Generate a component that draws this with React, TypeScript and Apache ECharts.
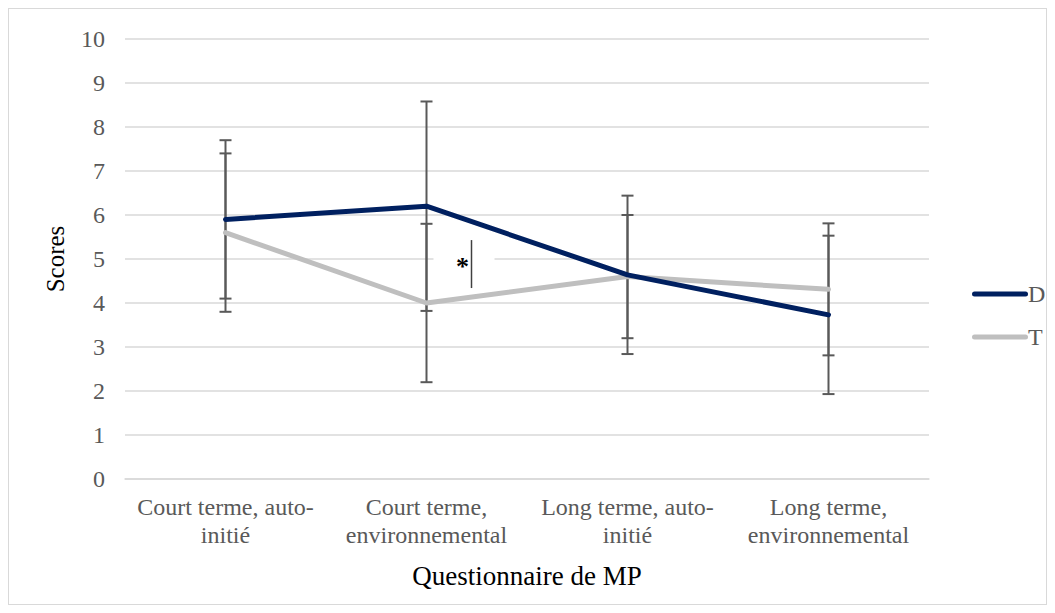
import React, { useEffect, useRef } from "react";
import * as echarts from "echarts";

const categories = [
  "Court terme, auto-\ninitié",
  "Court terme,\nenvironnemental",
  "Long terme, auto-\ninitié",
  "Long terme,\nenvironnemental",
];
const yTicks = [0, 1, 2, 3, 4, 5, 6, 7, 8, 9, 10];
const dMeans = [5.9, 6.2, 4.64, 3.73];
const dErr = [1.8, 2.38, 1.8, 1.8];
const tMeans = [5.6, 4.0, 4.6, 4.31];
const tErr = [1.8, 1.8, 1.4, 1.5];

const FONT = "'Liberation Serif', 'Times New Roman', serif";
const LEGEND_ICON = "path://M2.5,0 L53.5,0 A2.5,2.5 0 0 1 53.5,5 L2.5,5 A2.5,2.5 0 0 1 2.5,0 Z";

function errData(means: number[], errs: number[]) {
  return means.map((m, i) => [i, m - errs[i], m + errs[i]]);
}

function errorRender(params: any, api: any) {
  const x = api.value(0);
  const lo = api.coord([x, api.value(1)]);
  const hi = api.coord([x, api.value(2)]);
  const hw = 6;
  const style = { stroke: "#595959", lineWidth: 2, fill: "none" };
  return {
    type: "group",
    children: [
      { type: "line", shape: { x1: lo[0], y1: lo[1], x2: hi[0], y2: hi[1] }, style },
      { type: "line", shape: { x1: lo[0] - hw, y1: lo[1], x2: lo[0] + hw, y2: lo[1] }, style },
      { type: "line", shape: { x1: hi[0] - hw, y1: hi[1], x2: hi[0] + hw, y2: hi[1] }, style },
    ],
  };
}

export default function App() {
  const ref = useRef<HTMLDivElement>(null);
  useEffect(() => {
    if (!ref.current) return;
    const chart = echarts.init(ref.current, undefined, { renderer: "svg" });
    chart.setOption({
      animation: false,
      textStyle: { fontFamily: FONT },
      grid: { left: 116, top: 30, width: 804, height: 440, containLabel: false },
      legend: {
        data: [
          { name: "D", icon: LEGEND_ICON },
          { name: "T", icon: LEGEND_ICON },
        ],
        orient: "vertical",
        left: 958,
        top: 268,
        itemWidth: 56,
        itemHeight: 5,
        itemGap: 19,
        textStyle: { fontFamily: FONT, fontSize: 24, color: "#595959", padding: [0, 0, 0, -5] },
      },
      xAxis: {
        type: "category",
        data: categories,
        boundaryGap: true,
        axisLine: { lineStyle: { color: "#d9d9d9", width: 1.5 } },
        axisTick: { show: false },
        axisLabel: {
          fontFamily: FONT,
          fontSize: 24,
          color: "#595959",
          lineHeight: 28,
          margin: 14,
          interval: 0,
        },
        name: "Questionnaire de MP",
        nameLocation: "middle",
        nameGap: 83,
        nameTextStyle: { fontFamily: FONT, fontSize: 27, color: "#000" },
      },
      yAxis: {
        type: "value",
        min: 0,
        max: 10,
        interval: 1,
        axisLine: { show: false },
        axisTick: { show: false },
        splitLine: { lineStyle: { color: "#d9d9d9", width: 1.5 } },
        axisLabel: {
          fontFamily: FONT,
          fontSize: 24,
          color: "#595959",
          margin: 20,
          formatter: (v: number) => (yTicks.includes(v) ? String(v) : ""),
        },
        name: "Scores",
        nameLocation: "middle",
        nameGap: 57,
        nameRotate: 90,
        nameTextStyle: { fontFamily: FONT, fontSize: 25, color: "#000" },
      },
      series: [
        {
          name: "D-err",
          type: "custom",
          data: errData(dMeans, dErr),
          renderItem: errorRender,
          z: 1,
          silent: true,
        },
        {
          name: "T-err",
          type: "custom",
          data: errData(tMeans, tErr),
          renderItem: errorRender,
          z: 1,
          silent: true,
        },
        {
          name: "T",
          type: "line",
          data: tMeans,
          symbol: "none",
          lineStyle: { color: "#bfbfbf", width: 5, cap: "round", join: "round" },
          itemStyle: { color: "#bfbfbf" },
          z: 3,
        },
        {
          name: "D",
          type: "line",
          data: dMeans,
          symbol: "none",
          lineStyle: { color: "#002060", width: 5, cap: "round", join: "round" },
          itemStyle: { color: "#002060" },
          z: 4,
        },
      ],
    });

    const base = chart.convertToPixel({ xAxisIndex: 0, yAxisIndex: 0 }, [1, 5]) as number[];
    const yTop = chart.convertToPixel({ yAxisIndex: 0 }, 5.43) as number;
    const yBot = chart.convertToPixel({ yAxisIndex: 0 }, 4.34) as number;
    chart.setOption({
      graphic: [
        {
          type: "rect",
          shape: { x: base[0] + 7, y: base[1] - 12, width: 61, height: 24 },
          style: { fill: "#fff" },
          z: 2,
          silent: true,
        },
        {
          type: "text",
          x: base[0] + 36,
          y: base[1] + 7,
          style: {
            text: "*",
            font: `bold 26px ${FONT}`,
            fill: "#000",
            textAlign: "center",
            textVerticalAlign: "middle",
          },
          z: 5,
          silent: true,
        },
        {
          type: "line",
          shape: { x1: base[0] + 45, y1: yTop, x2: base[0] + 45, y2: yBot },
          style: { stroke: "#404040", lineWidth: 1.5 },
          z: 5,
          silent: true,
        },
      ],
    });
    return () => chart.dispose();
  }, []);

  return (
    <div style={{ width: 1037, height: 595, border: "1px solid #d9d9d9", background: "#fff" }}>
      <div ref={ref} style={{ width: 1037, height: 595 }} />
    </div>
  );
}
